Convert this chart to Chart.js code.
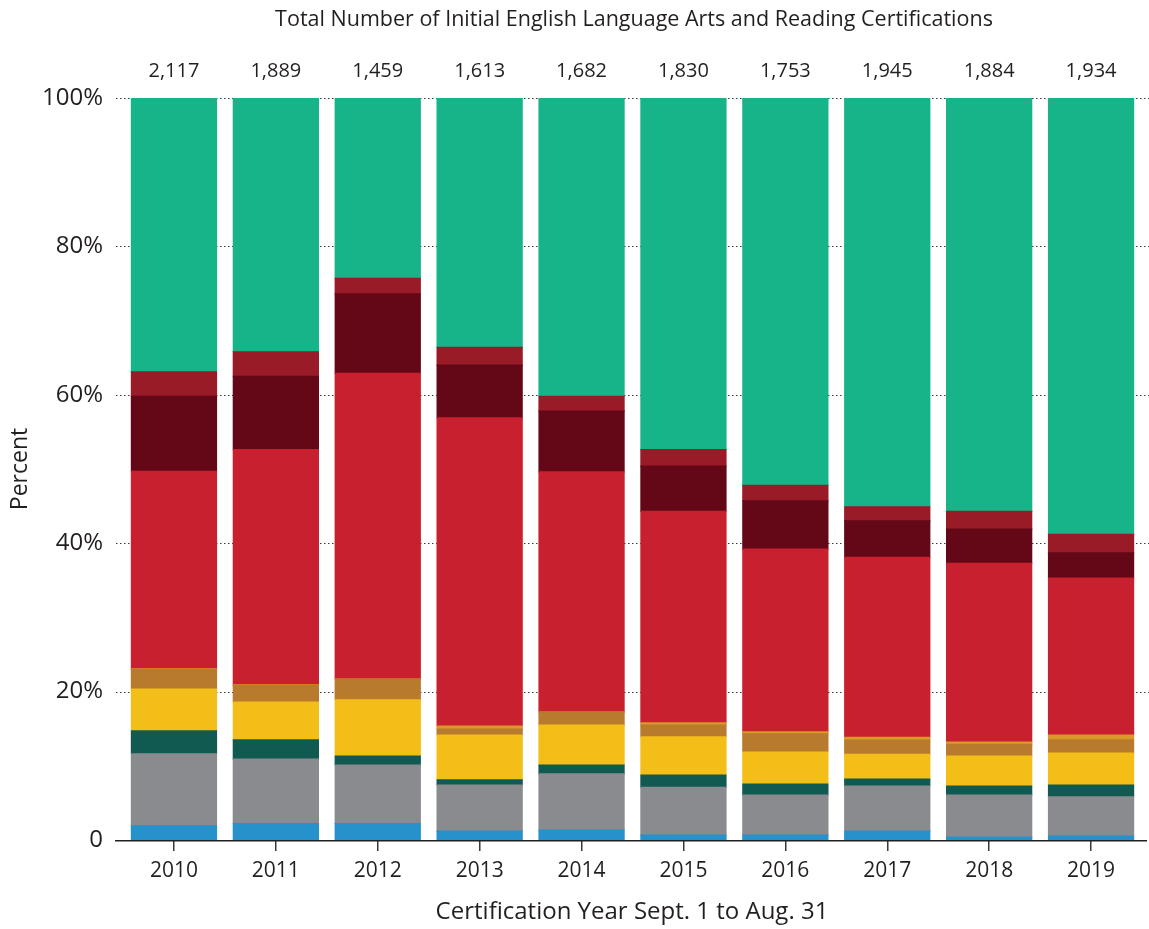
<!DOCTYPE html>
<html>
<head>
<meta charset="utf-8">
<script src="https://cdn.jsdelivr.net/npm/chart.js@4"></script>
<style>
  html, body { margin: 0; padding: 0; background: #ffffff; }
  #wrap { width: 1149px; height: 929px; position: relative; }
</style>
</head>
<body>
<div id="wrap"><canvas id="c" width="1149" height="929"></canvas></div>
<script>
// ---- Data ----
const years = ["2010", "2011", "2012", "2013", "2014", "2015", "2016", "2017", "2018", "2019"];
const totals = ["2,117", "1,889", "1,459", "1,613", "1,682", "1,830", "1,753", "1,945", "1,884", "1,934"];
const yTickValues = [0, 20, 40, 60, 80, 100];

// stacked segments, bottom to top (percent of initial certifications)
const segBlue      = [1.9, 2.2, 2.2, 1.2, 1.35, 0.67, 0.67, 1.2, 0.4, 0.54];
const segGray      = [9.7, 8.7, 7.9, 6.2, 7.55, 6.43, 5.39, 6.08, 5.66, 5.26];
const segDarkGreen = [3.1, 2.6, 1.2, 0.7, 1.2, 1.66, 1.49, 0.92, 1.22, 1.6];
const segYellow    = [5.65, 5.1, 7.6, 6.05, 5.4, 5.14, 4.31, 3.35, 4.02, 4.3];
const segBrown     = [2.6, 2.2, 2.8, 0.8, 1.75, 1.6, 2.43, 1.9, 1.6, 1.8];
const segOrange    = [0.1, 0.1, 0.0, 0.4, 0.0, 0.3, 0.27, 0.4, 0.3, 0.65];
const segRed       = [26.65, 31.7, 41.2, 41.55, 32.35, 28.5, 24.64, 24.25, 24.1, 21.15];
const segMaroon    = [10.1, 9.9, 10.7, 7.1, 8.2, 6.1, 6.5, 4.9, 4.6, 3.4];
const segDarkRed   = [3.3, 3.3, 2.1, 2.4, 2.0, 2.2, 2.1, 1.9, 2.4, 2.5];
const segGreen     = [36.9, 34.2, 24.3, 33.6, 40.2, 47.4, 52.2, 55.1, 55.7, 58.8];

const seriesNames = ["Segment 1", "Segment 2", "Segment 3", "Segment 4", "Segment 5",
                     "Segment 6", "Segment 7", "Segment 8", "Segment 9", "Segment 10"];
const seriesData = [segBlue, segGray, segDarkGreen, segYellow, segBrown,
                    segOrange, segRed, segMaroon, segDarkRed, segGreen];
const seriesColors = ["#2592cb", "#8a8b8e", "#115a52", "#f4be18", "#b87a2c",
                      "#d99a2a", "#c8202f", "#640817", "#981b27", "#17b48a"];

const titleText = "Total Number of Initial English Language Arts and Reading Certifications";
const xTitleText = "Certification Year Sept. 1 to Aug. 31";
const yTitleText = "Percent";

const FONT = "'Open Sans', 'Noto Sans', sans-serif";
const TEXT = "#231f20";

const CA_LEFT = 123, CA_TOP = 98, CA_RIGHT = 1142, CA_BOTTOM = 840;

const decor = {
  id: 'decor',
  beforeDatasetsDraw(chart) {
    const ctx = chart.ctx;
    const y = chart.scales.y;
    ctx.save();
    ctx.strokeStyle = "#3a3a3a";
    ctx.lineWidth = 1.2;
    ctx.setLineDash([1.5, 2.5]);
    yTickValues.forEach(v => {
      if (v === 0) return;
      const py = Math.round(y.getPixelForValue(v)) + 0.5;
      ctx.beginPath();
      ctx.moveTo(116, py);
      ctx.lineTo(1149, py);
      ctx.stroke();
    });
    ctx.restore();
  },
  afterDatasetsDraw(chart) {
    const ctx = chart.ctx;
    const x = chart.scales.x;
    const y = chart.scales.y;
    ctx.save();
    // x axis line
    const py = y.getPixelForValue(0);
    ctx.strokeStyle = "#231f20";
    ctx.lineWidth = 1.6;
    ctx.beginPath();
    ctx.moveTo(115, py + 0.8);
    ctx.lineTo(1147, py + 0.8);
    ctx.stroke();
    // totals above bars
    ctx.fillStyle = TEXT;
    ctx.textAlign = "center";
    ctx.textBaseline = "middle";
    ctx.font = "20px " + FONT;
    totals.forEach((t, i) => {
      ctx.fillText(t, x.getPixelForValue(i), 71);
    });
    // title
    ctx.font = "21.5px " + FONT;
    ctx.fillText(titleText, 634, 20);
    // x title
    ctx.font = "24px " + FONT;
    ctx.fillText(xTitleText, 632, 912);
    // y title
    ctx.font = "23px " + FONT;
    ctx.translate(20, 469);
    ctx.rotate(-Math.PI / 2);
    ctx.fillText(yTitleText, 0, 0);
    ctx.restore();
  }
};

new Chart(document.getElementById('c'), {
  type: 'bar',
  data: {
    labels: years,
    datasets: seriesData.map((d, i) => ({
      label: seriesNames[i],
      data: d,
      backgroundColor: seriesColors[i],
      borderWidth: 0,
      inflateAmount: 0.6,
      categoryPercentage: 0.835,
      barPercentage: 1.0
    }))
  },
  options: {
    responsive: false,
    animation: false,
    devicePixelRatio: 1,
    layout: { padding: { top: CA_TOP, right: 1149 - CA_RIGHT, left: 0, bottom: 0 } },
    plugins: {
      legend: { display: false },
      title: { display: false },
      tooltip: { enabled: false }
    },
    scales: {
      x: {
        stacked: true,
        offset: true,
        border: { display: false },
        grid: {
          display: true,
          offset: false,
          drawOnChartArea: false,
          drawTicks: true,
          tickLength: 11,
          color: "#3a3a3a",
          lineWidth: 1.5
        },
        ticks: {
          color: TEXT,
          font: { family: FONT, size: 21 },
          padding: 7,
          maxRotation: 0
        },
        afterFit(scale) { scale.height = 929 - CA_BOTTOM; }
      },
      y: {
        stacked: true,
        min: 0,
        max: 100,
        border: { display: false },
        grid: { display: false, drawTicks: false },
        ticks: {
          stepSize: 20,
          color: TEXT,
          font: { family: FONT, size: 24 },
          padding: 20,
          callback: v => (v === 0 ? "0" : v + "%")
        },
        afterFit(scale) { scale.width = CA_LEFT; }
      }
    }
  },
  plugins: [decor]
});
</script>
</body>
</html>
